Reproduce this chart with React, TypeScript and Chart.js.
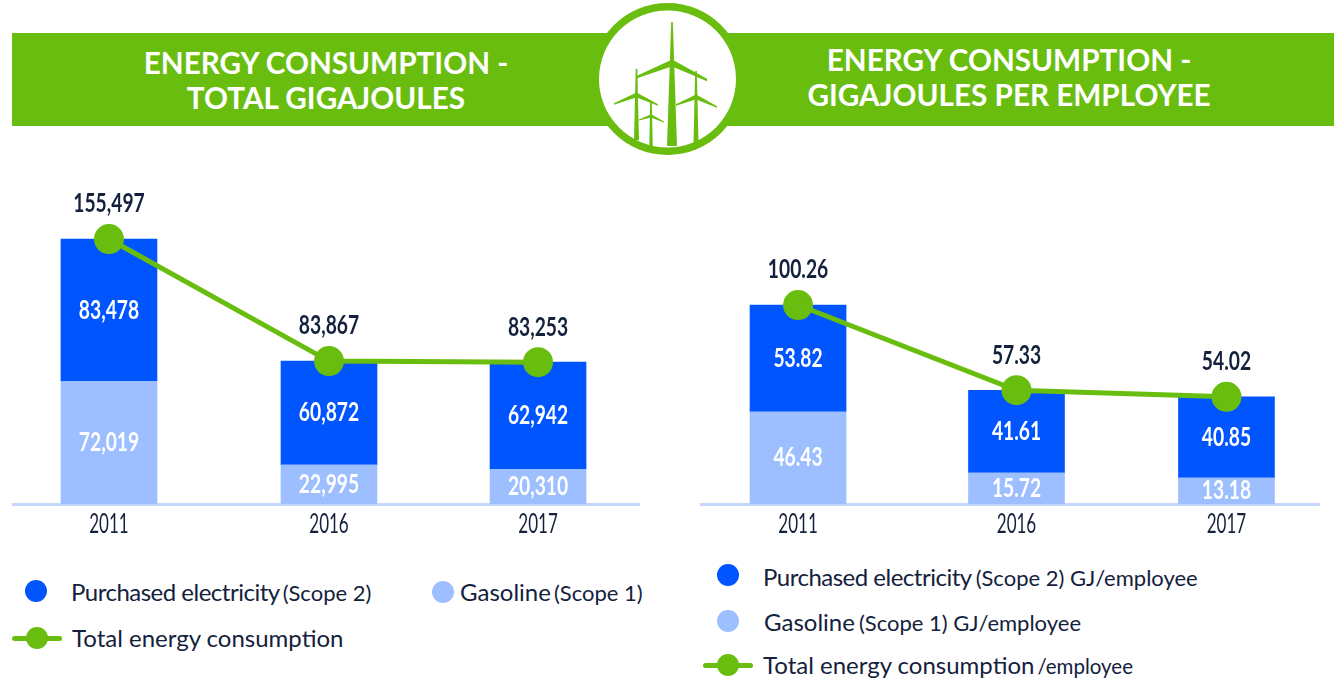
import React, { useEffect, useRef } from "react";
import { Chart, registerables, CategoryScale } from "chart.js";

class NudgedCategory extends CategoryScale {
  static id = "nudgedCategory";
  static defaults = CategoryScale.defaults;
  getPixelForValue(value: any, index?: number) {
    const base = super.getPixelForValue(value, index);
    const i = typeof value === "number" ? Math.round(value) : 0;
    const n = (this.options as any).nudge;
    return base + (n && n[i] ? n[i] : 0);
  }
}
Chart.register(...registerables, NudgedCategory as any);

const years = ["2011", "2016", "2017"];
const totalElectricity = [83478, 60872, 62942];
const totalGasoline = [72019, 22995, 20310];
const totalEnergy = [155497, 83867, 83253];
const perEmployeeElectricity = [53.82, 41.61, 40.85];
const perEmployeeGasoline = [46.43, 15.72, 13.18];
const perEmployeeEnergy = [100.26, 57.33, 54.02];

const GREEN = "#69BD0F";
const BLUE = "#0055FF";
const LIGHT = "#9DBEFF";
const AXIS = "#C6D9FC";
const INK = "#14213D";
const LATO = 'Lato, "Noto Sans", sans-serif';

function narrowText(ctx: any, text: string, x: number, y: number, squeeze: number) {
  ctx.save();
  ctx.translate(x, y);
  ctx.scale(squeeze, 1);
  ctx.fillText(text, 0, 0);
  ctx.restore();
}

const makeValueLabels = (fmt: (v: number) => string) => ({
  id: "valueLabels",
  afterDraw(chart: any) {
    const { ctx } = chart;
    ctx.save();
    ctx.textAlign = "center";
    ctx.textBaseline = "middle";
    ctx.font = `bold 26px ${LATO}`;
    chart.data.datasets.forEach((ds: any, di: number) => {
      const meta = chart.getDatasetMeta(di);
      meta.data.forEach((el: any, i: number) => {
        const text = fmt(ds.data[i]);
        if (ds.type === "line") {
          ctx.fillStyle = INK;
          narrowText(ctx, text, el.x, el.y - 35, 0.74);
        } else {
          ctx.fillStyle = "#FFFFFF";
          narrowText(ctx, text, el.x, (el.y + el.base) / 2, 0.74);
        }
      });
    });
    const xs = chart.scales.x;
    ctx.font = `27px ${LATO}`;
    ctx.fillStyle = INK;
    xs.ticks.forEach((_t: any, i: number) => {
      narrowText(ctx, xs.getLabelForValue(i), xs.getPixelForTick(i), xs.top + 20, 0.63);
    });
    ctx.restore();
  },
});

function Panel(props: {
  left: number;
  width: number;
  electricity: number[];
  gasoline: number[];
  total: number[];
  yMax: number;
  nudge: number[];
  format: (v: number) => string;
  names: string[];
}) {
  const ref = useRef<HTMLCanvasElement>(null);
  useEffect(() => {
    const chart = new Chart(ref.current as HTMLCanvasElement, {
      type: "bar",
      data: {
        labels: years,
        datasets: [
          { type: "line", label: props.names[2], data: props.total, borderColor: GREEN, borderWidth: 5, pointBackgroundColor: GREEN, pointBorderColor: GREEN, pointRadius: 12.5, tension: 0, order: 0 },
          { type: "bar", label: props.names[0], data: props.electricity, backgroundColor: BLUE, barThickness: 96, stack: "s", order: 2 },
          { type: "bar", label: props.names[1], data: props.gasoline, backgroundColor: LIGHT, barThickness: 96, stack: "s", order: 1 },
        ],
      } as any,
      options: {
        responsive: false,
        animation: false,
        layout: { padding: 0, autoPadding: false },
        clip: false,
        plugins: {
          legend: { display: false },
          tooltip: { enabled: false },
        },
        scales: {
          x: {
            type: "nudgedCategory",
            nudge: props.nudge,
            stacked: true,
            offset: true,
            grid: { display: false, drawTicks: false },
            border: { color: AXIS, width: 3 },
            ticks: { display: false },
            afterFit(s: any) { s.height = 36; },
          },
          y: { stacked: true, display: false, min: 0, max: props.yMax },
        },
      } as any,
      plugins: [makeValueLabels(props.format)],
    });
    return () => chart.destroy();
  }, []);
  return (
    <canvas
      ref={ref}
      width={props.width}
      height={370}
      style={{ position: "absolute", left: props.left, top: 170, width: props.width, height: 370 }}
    />
  );
}

function Turbine(p: { x: number; top: number; bottom: number; hub: number; w: number; l: number[]; r: number[]; t: number }) {
  const { x, top, bottom, hub, w, l, r, t } = p;
  return (
    <g fill={GREEN}>
      <polygon points={`${x - 0.8},${top} ${x + 0.8},${top} ${x + w / 2},${bottom} ${x - w / 2},${bottom}`} />
      <polygon points={`${x - 1},${hub - t} ${x + 1},${hub + t} ${l[0]},${l[1] + t * 0.4} ${l[0]},${l[1] - t * 0.4}`} />
      <polygon points={`${x - 1},${hub + t} ${x + 1},${hub - t} ${r[0]},${r[1] - t * 0.4} ${r[0]},${r[1] + t * 0.4}`} />
    </g>
  );
}

function Banner() {
  return (
    <svg width={1334} height={165} style={{ position: "absolute", left: 0, top: 0 }}>
      <rect x={12} y={33} width={1322} height={93} fill={GREEN} />
      <circle cx={667.5} cy={79} r={76} fill={GREEN} />
      <circle cx={667.5} cy={79} r={68.5} fill="#FFFFFF" />
      <Turbine x={672} top={22} bottom={146} hub={63} w={10} l={[637, 77]} r={[707, 80]} t={3} />
      <Turbine x={696} top={71} bottom={142} hub={97} w={5} l={[676, 105]} r={[717, 107]} t={2} />
      <Turbine x={636.5} top={69} bottom={140} hub={95} w={5} l={[614, 104]} r={[658, 105]} t={2} />
      <Turbine x={651} top={102} bottom={146} hub={116} w={3.5} l={[639, 120]} r={[664, 122]} t={1.3} />
    </svg>
  );
}

const abs = (x: number, y: number, extra: any = {}): any => ({ position: "absolute", left: x, top: y, transform: "translateY(-50%)", whiteSpace: "nowrap", ...extra });

function Txt(p: { x: number; y: number; main: string; small?: string; gap?: number; tight?: number; smallSize?: number }) {
  return (
    <div style={abs(p.x, p.y, { fontFamily: LATO, fontSize: 24, color: INK, lineHeight: "30px" })}>
      <span style={{ letterSpacing: p.tight ?? 0 }}>{p.main}</span>
      {p.small ? <span style={{ fontSize: p.smallSize ?? 22, marginLeft: p.gap ?? 2 }}>{p.small}</span> : null}
    </div>
  );
}
const Dot = (p: { x: number; y: number; c: string }) => (
  <div style={{ position: "absolute", left: p.x - 11, top: p.y - 11, width: 22, height: 22, borderRadius: "50%", background: p.c }} />
);
const LineKey = (p: { x: number; y: number }) => (
  <>
    <div style={{ position: "absolute", left: p.x, top: p.y - 2.5, width: 50, height: 5, borderRadius: 3, background: GREEN }} />
    <Dot x={p.x + 25} y={p.y} c={GREEN} />
  </>
);
const Head = (p: { x: number; y: number; text: string }) => (
  <div style={{ position: "absolute", left: p.x - 300, width: 600, top: p.y, transform: "translateY(-50%)", textAlign: "center", fontFamily: LATO, fontWeight: 700, fontSize: 29.7, color: "#FFFFFF", lineHeight: "34px" }}>
    {p.text}
  </div>
);

export default function App() {
  return (
    <div style={{ position: "absolute", left: 0, top: 0, width: 1334, height: 682, background: "#FFFFFF", overflow: "hidden" }}>
      <Banner />
      <Head x={326} y={63} text="ENERGY CONSUMPTION -" />
      <Head x={326} y={98} text="TOTAL GIGAJOULES" />
      <Head x={1009} y={60} text="ENERGY CONSUMPTION -" />
      <Head x={1009} y={95} text="GIGAJOULES PER EMPLOYEE" />
      <Panel left={12} width={628} electricity={totalElectricity} gasoline={totalGasoline} total={totalEnergy} yMax={196000} nudge={[-7.7, 3, 2.7]} format={(v) => v.toLocaleString("en-US")} names={["Purchased electricity (Scope 2)", "Gasoline (Scope 1)", "Total energy consumption"]} />
      <Panel left={700} width={620} electricity={perEmployeeElectricity} gasoline={perEmployeeGasoline} total={perEmployeeEnergy} yMax={168.3} nudge={[-5.3, 6.5, 9.8]} format={(v) => v.toFixed(2)} names={["Purchased electricity (Scope 2) GJ/employee", "Gasoline (Scope 1) GJ/employee", "Total energy consumption/employee"]} />
      <Dot x={36} y={591} c={BLUE} />
      <Txt x={71} y={592} main="Purchased electricity" tight={-0.5} small="(Scope 2)" gap={3} />
      <Dot x={443} y={592} c={LIGHT} />
      <Txt x={460} y={592} main="Gasoline" small="(Scope 1)" gap={3} />
      <LineKey x={12} y={638} />
      <Txt x={72} y={638} main="Total energy consumption" />
      <Dot x={728} y={575} c={BLUE} />
      <Txt x={763} y={577} main="Purchased electricity" tight={-0.5} small="(Scope 2) GJ/employee" gap={4} />
      <Dot x={728} y={621} c={LIGHT} />
      <Txt x={764} y={622} main="Gasoline" small="(Scope 1) GJ/employee" gap={4} />
      <LineKey x={703} y={665} />
      <Txt x={763} y={665} main="Total energy consumption" small="/employee" gap={3} smallSize={20.5} />
    </div>
  );
}
